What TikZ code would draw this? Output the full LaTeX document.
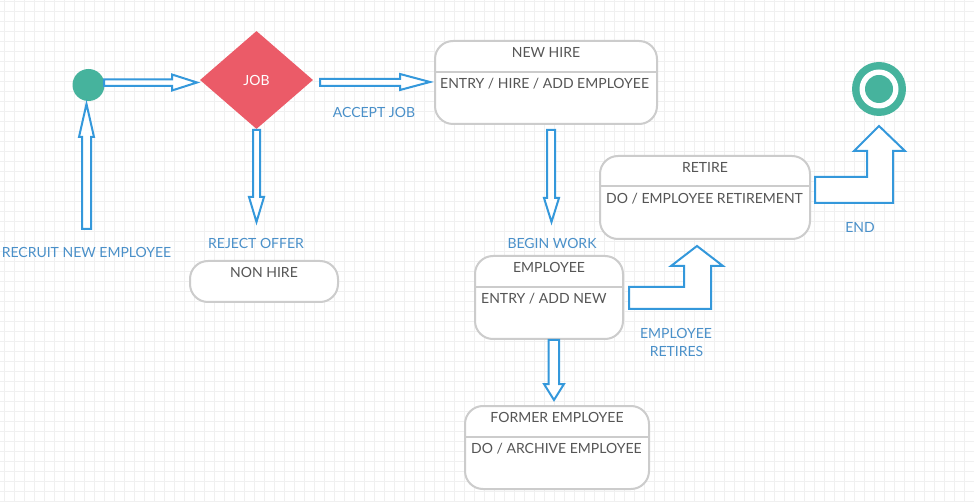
\documentclass[tikz,border=0pt]{standalone}
\usepackage{fontspec}
\setmainfont{Lato}
\usetikzlibrary{shapes.geometric}
\definecolor{arrowblue}{HTML}{3498DB}
\definecolor{labelblue}{HTML}{4A90C9}
\definecolor{umlgreen}{HTML}{46B39D}
\definecolor{umlred}{HTML}{EB5B68}
\definecolor{boxgray}{HTML}{CCCCCC}
\definecolor{txtgray}{HTML}{555555}
\definecolor{gridgray}{HTML}{F0F0F0}
\begin{document}
\begin{tikzpicture}[x=1pt,y=-1pt,
  statebox/.style={draw=boxgray, line width=2pt, rounded corners=18pt, fill=white, inner sep=0pt},
  boxtitle/.style={text=txtgray, font=\fontsize{14}{16}\selectfont, anchor=base, inner sep=0pt},
  boxbody/.style={text=txtgray, font=\fontsize{14}{16}\selectfont, anchor=base west, inner sep=0pt},
  lbl/.style={text=labelblue, font=\fontsize{14}{16}\selectfont, anchor=base, inner sep=0pt},
  blockarrow/.style={draw=arrowblue, line width=2pt, fill=white, line join=miter},
  divider/.style={draw=boxgray, line width=2pt},
  gridline/.style={draw=gridgray, line width=0.8pt}]

\useasboundingbox (0,0) rectangle (974,502);
\fill[white] (0,0) rectangle (974,502);
\begin{scope}
\clip (0,0) rectangle (974,502);
\foreach \gx in {4,14,...,974} \draw[gridline] (\gx,0) -- (\gx,502);
\foreach \gy in {1,11,...,501} \draw[gridline] (0,\gy) -- (974,\gy);
\end{scope}

% start and end
\node[circle, fill=umlgreen, minimum size=32pt, inner sep=0pt] (start) at (88.5,85) {};
\node[circle, fill=umlgreen, minimum size=54pt, inner sep=0pt] (endouter) at (879,89) {};
\node[circle, fill=white, minimum size=39pt, inner sep=0pt] (endring) at (endouter.center) {};
\node[circle, fill=umlgreen, minimum size=28pt, inner sep=0pt] (enddot) at (endouter.center) {};

% decision
\node[diamond, fill=umlred, minimum width=113pt, minimum height=98pt, inner sep=0pt,
      text=white, font=\fontsize{14}{16}\selectfont] (job) at (256.5,80) {JOB};

% state boxes
\node[statebox, minimum width=222pt, minimum height=83pt] (newhire) at (546,82.5) {};
\draw[divider] (newhire.west |- 0,72) -- (newhire.east |- 0,72);
\node[boxtitle] (newhireT) at (546,57.7) {NEW HIRE};
\node[boxbody] (newhireB) at (440,89) {ENTRY / HIRE / ADD EMPLOYEE};

\node[statebox, minimum width=148pt, minimum height=83pt] (employee) at (549,297.5) {};
\draw[divider] (employee.west |- 0,287) -- (employee.east |- 0,287);
\node[boxtitle] (employeeT) at (549,272.7) {EMPLOYEE};
\node[boxbody] (employeeB) at (481,304) {ENTRY / ADD NEW};

\node[statebox, minimum width=210pt, minimum height=83pt] (retire) at (705,197.5) {};
\draw[divider] (retire.west |- 0,186) -- (retire.east |- 0,186);
\node[boxtitle] (retireT) at (705,172.3) {RETIRE};
\node[boxbody] (retireB) at (606,204) {DO / EMPLOYEE RETIREMENT};

\node[statebox, minimum width=184pt, minimum height=83pt] (former) at (557,447.5) {};
\draw[divider] (former.west |- 0,437) -- (former.east |- 0,437);
\node[boxtitle] (formerT) at (557,422.7) {FORMER EMPLOYEE};
\node[boxbody] (formerB) at (471,453.7) {DO / ARCHIVE EMPLOYEE};

\node[statebox, minimum width=148pt, minimum height=41pt] (nonhire) at (264,281.5) {};
\node[boxtitle] (nonhireT) at (264,277.3) {NON HIRE};

% block arrows
\draw[blockarrow] (104,79.5) -- (172,79.5) -- (172,74.5) -- (197,82.5) -- (172,90.5) -- (172,86) -- (104,86) -- cycle;
\draw[blockarrow] (253,130) -- (253,197) -- (249,197) -- (256.5,222) -- (264,197) -- (260,197) -- (260,130) -- cycle;
\draw[blockarrow] (82,229) -- (82,137) -- (79,137) -- (86.5,104) -- (94,137) -- (91,137) -- (91,229) -- cycle;
\draw[blockarrow] (320,79) -- (400,79) -- (400,74) -- (430,82) -- (400,90) -- (400,86) -- (320,86) -- cycle;
\draw[blockarrow] (547,130) -- (547,198) -- (544,198) -- (551.5,222) -- (559,198) -- (555,198) -- (555,130) -- cycle;
\draw[blockarrow] (548.5,340) -- (548.5,384) -- (544,384) -- (554,400) -- (564,384) -- (559,384) -- (559,340) -- cycle;
\draw[blockarrow] (629,287) -- (684,287) -- (684,266) -- (671,266) -- (697,246) -- (723,266) -- (711,266) -- (711,309) -- (629,309) -- cycle;
\draw[blockarrow] (815,177) -- (867,177) -- (867,151) -- (854,151) -- (879,126) -- (905,151) -- (893,151) -- (893,203) -- (815,203) -- cycle;

% labels
\node[lbl] (lrecruit) at (86.5,257.3) {RECRUIT NEW EMPLOYEE};
\node[lbl] (lreject) at (256,248.3) {REJECT OFFER};
\node[lbl] (laccept) at (374,117.3) {ACCEPT JOB};
\node[lbl] (lbegin) at (552,249) {BEGIN WORK};
\node[lbl] (lretires1) at (676,338.3) {EMPLOYEE};
\node[lbl] (lretires2) at (676.5,356.7) {RETIRES};
\node[lbl] (lend) at (860,232.3) {END};
\end{tikzpicture}
\end{document}
